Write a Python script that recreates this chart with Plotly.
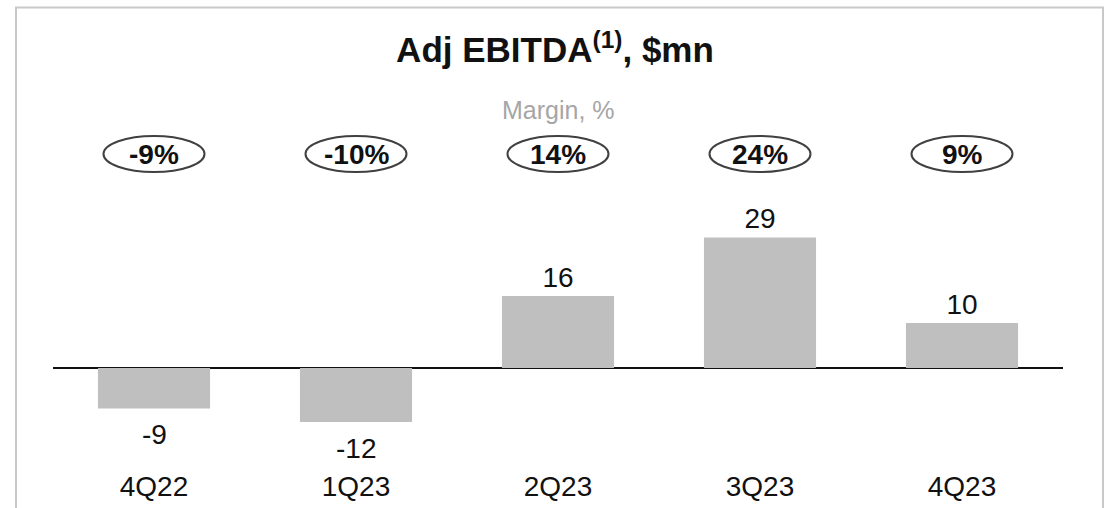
import plotly.graph_objects as go

quarters = ["4Q22", "1Q23", "2Q23", "3Q23", "4Q23"]
adj_ebitda = [-9, -12, 16, 29, 10]
margin_pct = [-9, -10, 14, 24, 9]

FONT = "Liberation Sans, Arial, sans-serif"

W, H = 1109, 508
L, R, T, B = 53, 46, 125, 43
PW, PH = W - L - R, H - T - B
Y_MIN, Y_MAX = -21.56, 54.0


def px_to_y(py):
    # pixel row -> data value on the y axis
    return Y_MAX - (py - T) / PH * (Y_MAX - Y_MIN)


fig = go.Figure()
fig.add_trace(
    go.Bar(
        x=quarters,
        y=adj_ebitda,
        width=0.555,
        marker=dict(color="#bfbfbf", line=dict(width=0)),
        text=[str(v) for v in adj_ebitda],
        textposition=["outside" if v >= 0 else "none" for v in adj_ebitda],
        textfont=dict(family=FONT, size=28, color="#111111"),
        cliponaxis=False,
        hoverinfo="skip",
    )
)

# labels under the negative bars sit a bit lower than plotly's outside text
for q, v in zip(quarters, adj_ebitda):
    if v < 0:
        fig.add_annotation(
            x=q,
            y=v,
            text=str(v),
            showarrow=False,
            yanchor="top",
            yshift=-9,
            font=dict(family=FONT, size=28, color="#111111"),
        )

# margin ovals above each bar
oval_mid = px_to_y(154)
oval_half = 18 / PH * (Y_MAX - Y_MIN)
for i, m in enumerate(margin_pct):
    fig.add_shape(
        type="circle",
        xref="x",
        yref="y",
        x0=i - 0.25,
        x1=i + 0.25,
        y0=oval_mid - oval_half,
        y1=oval_mid + oval_half,
        line=dict(color="#404040", width=2),
        fillcolor="rgba(0,0,0,0)",
    )
    fig.add_annotation(
        x=quarters[i],
        y=oval_mid,
        text=f"<b>{m}%</b>",
        showarrow=False,
        font=dict(family=FONT, size=28, color="#111111"),
        xanchor="center",
        yanchor="middle",
    )

fig.add_annotation(
    x=0.5,
    y=(H - B - 110) / PH,
    xref="paper",
    yref="paper",
    text="Margin, %",
    showarrow=False,
    font=dict(family=FONT, size=25, color="#a6a6a6"),
    xanchor="center",
    yanchor="middle",
)

# light grey frame round the panel
fig.add_shape(
    type="rect",
    xref="paper",
    yref="paper",
    x0=(16 - L) / PW,
    x1=(1103 - L) / PW,
    y0=(H - B - 540) / PH,
    y1=(H - B - 7.5) / PH,
    line=dict(color="#c8c8c8", width=2),
    fillcolor="rgba(0,0,0,0)",
    layer="below",
)

fig.update_layout(
    width=W,
    height=H,
    margin=dict(l=L, r=R, t=T, b=B, autoexpand=False),
    paper_bgcolor="white",
    plot_bgcolor="white",
    showlegend=False,
    title=dict(
        text="<b>Adj EBITDA<sup>(1)</sup>, $mn</b>",
        x=555 / W,
        xref="container",
        y=1 - 50 / H,
        yref="container",
        xanchor="center",
        yanchor="middle",
        font=dict(family=FONT, size=35, color="#111111"),
    ),
    xaxis=dict(
        range=[-0.5, 4.5],
        showgrid=False,
        showline=False,
        ticks="",
        automargin=False,
        ticklabelstandoff=2,
        tickfont=dict(family=FONT, size=28, color="#111111"),
        fixedrange=True,
    ),
    yaxis=dict(
        range=[Y_MIN, Y_MAX],
        showgrid=False,
        showticklabels=False,
        automargin=False,
        zeroline=True,
        zerolinecolor="#111111",
        zerolinewidth=1.5,
        fixedrange=True,
    ),
)

# drop the browser's default body margin so the figure fills the window exactly
fig.write_html(
    "out.html",
    config={"displayModeBar": False},
    post_script="document.body.style.margin='0';document.body.style.overflow='hidden';",
)
